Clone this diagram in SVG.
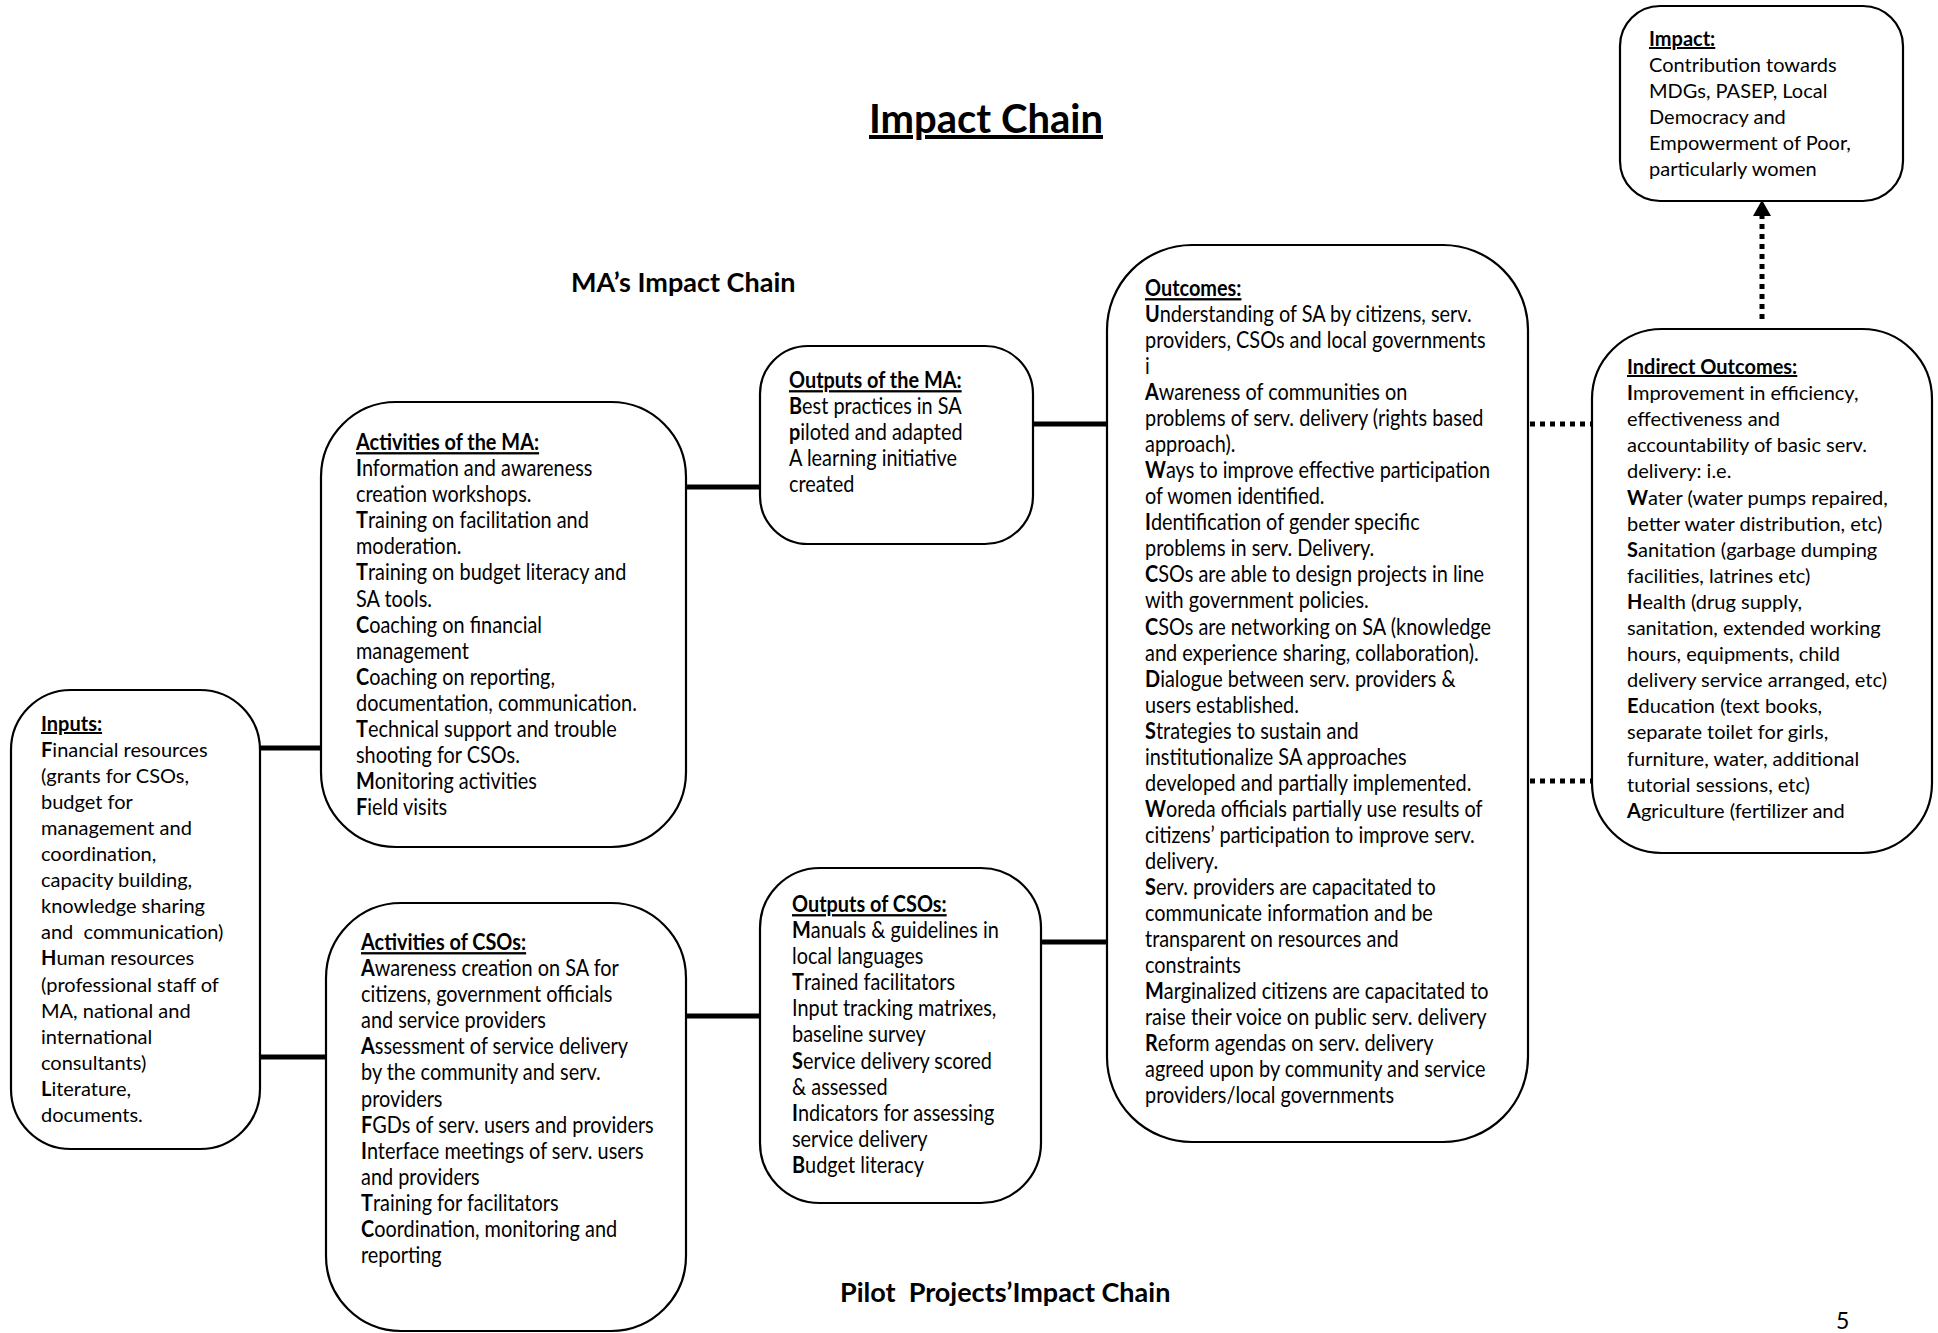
<svg xmlns="http://www.w3.org/2000/svg" width="1938" height="1333" viewBox="0 0 1938 1333">
<style>
.box{fill:#fff;stroke:#000;stroke-width:2.2}
.t{font-family:Lato,"Liberation Sans",sans-serif;font-size:20px;fill:#000}
.c{font-family:Lato,"Liberation Sans",sans-serif;font-size:23px;fill:#000}
.h{font-weight:bold;text-decoration:underline}
.b{font-weight:bold}
.solid{stroke:#000;stroke-width:5;fill:none}
.dot{stroke:#000;stroke-width:5;stroke-dasharray:5 5;fill:none}
.title{font-family:Lato,"Liberation Sans",sans-serif;font-weight:bold;fill:#000}
</style>
<rect width="1938" height="1333" fill="#fff"/>

<g id="titles">
<text class="title" x="986" y="133" font-size="40" text-anchor="middle" text-decoration="underline">Impact Chain</text>
<text class="title" x="571" y="292" font-size="27">MA’s Impact Chain</text>
<text class="title" x="840" y="1302" font-size="27" style="white-space:pre">Pilot  Projects’Impact Chain</text>
<text x="1836" y="1329" font-family="Lato,'Liberation Sans',sans-serif" font-size="23">5</text>
</g>

<g id="connectors">
<line class="solid" x1="260" y1="748" x2="321" y2="748"/>
<line class="solid" x1="260" y1="1057" x2="326" y2="1057"/>
<line class="solid" x1="686" y1="487" x2="760" y2="487"/>
<line class="solid" x1="686" y1="1016" x2="760" y2="1016"/>
<line class="solid" x1="1033" y1="424" x2="1107" y2="424"/>
<line class="solid" x1="1041" y1="942" x2="1107" y2="942"/>
<line class="dot" x1="1530" y1="424" x2="1592" y2="424"/>
<line class="dot" x1="1530" y1="781" x2="1592" y2="781"/>
<line class="dot" x1="1762" y1="319" x2="1762" y2="214"/>
<polygon points="1762,200 1753,216 1771,216" fill="#000"/>
</g>

<g id="impact">
<rect class="box" x="1620" y="6" width="283" height="195" rx="40"/>
<text class="t" x="1649" y="46"><tspan class="h">Impact:</tspan>
<tspan x="1649" dy="26">Contribution towards</tspan>
<tspan x="1649" dy="26">MDGs, PASEP, Local</tspan>
<tspan x="1649" dy="26">Democracy and</tspan>
<tspan x="1649" dy="26">Empowerment of Poor,</tspan>
<tspan x="1649" dy="26">particularly women</tspan></text>
</g>

<g id="indirect-outcomes">
<rect class="box" x="1592" y="329" width="340" height="524" rx="70"/>
<text class="t" x="1627" y="374"><tspan class="h">Indirect Outcomes:</tspan>
<tspan x="1627" dy="26.1"><tspan class="b">I</tspan>mprovement in efficiency,</tspan>
<tspan x="1627" dy="26.1">effectiveness and</tspan>
<tspan x="1627" dy="26.1">accountability of basic serv.</tspan>
<tspan x="1627" dy="26.1">delivery: i.e.</tspan>
<tspan x="1627" dy="26.1"><tspan class="b">W</tspan>ater (water pumps repaired,</tspan>
<tspan x="1627" dy="26.1">better water distribution, etc)</tspan>
<tspan x="1627" dy="26.1"><tspan class="b">S</tspan>anitation (garbage dumping</tspan>
<tspan x="1627" dy="26.1">facilities, latrines etc)</tspan>
<tspan x="1627" dy="26.1"><tspan class="b">H</tspan>ealth (drug supply,</tspan>
<tspan x="1627" dy="26.1">sanitation, extended working</tspan>
<tspan x="1627" dy="26.1">hours, equipments, child</tspan>
<tspan x="1627" dy="26.1">delivery service arranged, etc)</tspan>
<tspan x="1627" dy="26.1"><tspan class="b">E</tspan>ducation (text books,</tspan>
<tspan x="1627" dy="26.1">separate toilet for girls,</tspan>
<tspan x="1627" dy="26.1">furniture, water, additional</tspan>
<tspan x="1627" dy="26.1">tutorial sessions, etc)</tspan>
<tspan x="1627" dy="26.1"><tspan class="b">A</tspan>griculture (fertilizer and</tspan></text>
</g>

<g id="outcomes">
<rect class="box" x="1107" y="245" width="421" height="897" rx="85"/>
<g transform="translate(1145,0) scale(0.865,1)">
<text class="c" x="0" y="296"><tspan class="h">Outcomes:</tspan>
<tspan x="0" dy="26.04"><tspan class="b">U</tspan>nderstanding of SA by citizens, serv.</tspan>
<tspan x="0" dy="26.04">providers, CSOs and local governments</tspan>
<tspan x="0" dy="26.04">i</tspan>
<tspan x="0" dy="26.04"><tspan class="b">A</tspan>wareness of communities on</tspan>
<tspan x="0" dy="26.04">problems of serv. delivery (rights based</tspan>
<tspan x="0" dy="26.04">approach).</tspan>
<tspan x="0" dy="26.04"><tspan class="b">W</tspan>ays to improve effective participation</tspan>
<tspan x="0" dy="26.04">of women identified.</tspan>
<tspan x="0" dy="26.04"><tspan class="b">I</tspan>dentification of gender specific</tspan>
<tspan x="0" dy="26.04">problems in serv. Delivery.</tspan>
<tspan x="0" dy="26.04"><tspan class="b">C</tspan>SOs are able to design projects in line</tspan>
<tspan x="0" dy="26.04">with government policies.</tspan>
<tspan x="0" dy="26.04"><tspan class="b">C</tspan>SOs are networking on SA (knowledge</tspan>
<tspan x="0" dy="26.04">and experience sharing, collaboration).</tspan>
<tspan x="0" dy="26.04"><tspan class="b">D</tspan>ialogue between serv. providers &amp;</tspan>
<tspan x="0" dy="26.04">users established.</tspan>
<tspan x="0" dy="26.04"><tspan class="b">S</tspan>trategies to sustain and</tspan>
<tspan x="0" dy="26.04">institutionalize SA approaches</tspan>
<tspan x="0" dy="26.04">developed and partially implemented.</tspan>
<tspan x="0" dy="26.04"><tspan class="b">W</tspan>oreda officials partially use results of</tspan>
<tspan x="0" dy="26.04">citizens’ participation to improve serv.</tspan>
<tspan x="0" dy="26.04">delivery.</tspan>
<tspan x="0" dy="26.04"><tspan class="b">S</tspan>erv. providers are capacitated to</tspan>
<tspan x="0" dy="26.04">communicate information and be</tspan>
<tspan x="0" dy="26.04">transparent on resources and</tspan>
<tspan x="0" dy="26.04">constraints</tspan>
<tspan x="0" dy="26.04"><tspan class="b">M</tspan>arginalized citizens are capacitated to</tspan>
<tspan x="0" dy="26.04">raise their voice on public serv. delivery</tspan>
<tspan x="0" dy="26.04"><tspan class="b">R</tspan>eform agendas on serv. delivery</tspan>
<tspan x="0" dy="26.04">agreed upon by community and service</tspan>
<tspan x="0" dy="26.04">providers/local governments</tspan></text>
</g>
</g>

<g id="outputs-ma">
<rect class="box" x="760" y="346" width="273" height="198" rx="48"/>
<g transform="translate(789,0) scale(0.865,1)">
<text class="c" x="0" y="388"><tspan class="h">Outputs of the MA:</tspan>
<tspan x="0" dy="26.1"><tspan class="b">B</tspan>est practices in SA</tspan>
<tspan x="0" dy="26.1"><tspan class="b">p</tspan>iloted and adapted</tspan>
<tspan x="0" dy="26.1">A learning initiative</tspan>
<tspan x="0" dy="26.1">created</tspan></text>
</g>
</g>

<g id="outputs-csos">
<rect class="box" x="760" y="868" width="281" height="335" rx="60"/>
<g transform="translate(792,0) scale(0.865,1)">
<text class="c" x="0" y="912"><tspan class="h">Outputs of CSOs:</tspan>
<tspan x="0" dy="26.1"><tspan class="b">M</tspan>anuals &amp; guidelines in</tspan>
<tspan x="0" dy="26.1">local languages</tspan>
<tspan x="0" dy="26.1"><tspan class="b">T</tspan>rained facilitators</tspan>
<tspan x="0" dy="26.1">Input tracking matrixes,</tspan>
<tspan x="0" dy="26.1">baseline survey</tspan>
<tspan x="0" dy="26.1"><tspan class="b">S</tspan>ervice delivery scored</tspan>
<tspan x="0" dy="26.1">&amp; assessed</tspan>
<tspan x="0" dy="26.1"><tspan class="b">I</tspan>ndicators for assessing</tspan>
<tspan x="0" dy="26.1">service delivery</tspan>
<tspan x="0" dy="26.1"><tspan class="b">B</tspan>udget literacy</tspan></text>
</g>
</g>

<g id="activities-ma">
<rect class="box" x="321" y="402" width="365" height="445" rx="75"/>
<g transform="translate(356,0) scale(0.865,1)">
<text class="c" x="0" y="450"><tspan class="h">Activities of the MA:</tspan>
<tspan x="0" dy="26.1"><tspan class="b">I</tspan>nformation and awareness</tspan>
<tspan x="0" dy="26.1">creation workshops.</tspan>
<tspan x="0" dy="26.1"><tspan class="b">T</tspan>raining on facilitation and</tspan>
<tspan x="0" dy="26.1">moderation.</tspan>
<tspan x="0" dy="26.1"><tspan class="b">T</tspan>raining on budget literacy and</tspan>
<tspan x="0" dy="26.1">SA tools.</tspan>
<tspan x="0" dy="26.1"><tspan class="b">C</tspan>oaching on financial</tspan>
<tspan x="0" dy="26.1">management</tspan>
<tspan x="0" dy="26.1"><tspan class="b">C</tspan>oaching on reporting,</tspan>
<tspan x="0" dy="26.1">documentation, communication.</tspan>
<tspan x="0" dy="26.1"><tspan class="b">T</tspan>echnical support and trouble</tspan>
<tspan x="0" dy="26.1">shooting for CSOs.</tspan>
<tspan x="0" dy="26.1"><tspan class="b">M</tspan>onitoring activities</tspan>
<tspan x="0" dy="26.1"><tspan class="b">F</tspan>ield visits</tspan></text>
</g>
</g>

<g id="activities-csos">
<rect class="box" x="326" y="903" width="360" height="428" rx="75"/>
<g transform="translate(361,0) scale(0.865,1)">
<text class="c" x="0" y="950"><tspan class="h">Activities of CSOs:</tspan>
<tspan x="0" dy="26.1"><tspan class="b">A</tspan>wareness creation on SA for</tspan>
<tspan x="0" dy="26.1">citizens, government officials</tspan>
<tspan x="0" dy="26.1">and service providers</tspan>
<tspan x="0" dy="26.1"><tspan class="b">A</tspan>ssessment of service delivery</tspan>
<tspan x="0" dy="26.1">by the community and serv.</tspan>
<tspan x="0" dy="26.1">providers</tspan>
<tspan x="0" dy="26.1"><tspan class="b">F</tspan>GDs of serv. users and providers</tspan>
<tspan x="0" dy="26.1"><tspan class="b">I</tspan>nterface meetings of serv. users</tspan>
<tspan x="0" dy="26.1">and providers</tspan>
<tspan x="0" dy="26.1"><tspan class="b">T</tspan>raining for facilitators</tspan>
<tspan x="0" dy="26.1"><tspan class="b">C</tspan>oordination, monitoring and</tspan>
<tspan x="0" dy="26.1">reporting</tspan></text>
</g>
</g>

<g id="inputs">
<rect class="box" x="11" y="690" width="249" height="459" rx="60"/>
<text class="t" x="41" y="731" style="white-space:pre"><tspan class="h">Inputs:</tspan>
<tspan x="41" dy="26.05"><tspan class="b">F</tspan>inancial resources</tspan>
<tspan x="41" dy="26.05">(grants for CSOs,</tspan>
<tspan x="41" dy="26.05">budget for</tspan>
<tspan x="41" dy="26.05">management and</tspan>
<tspan x="41" dy="26.05">coordination,</tspan>
<tspan x="41" dy="26.05">capacity building,</tspan>
<tspan x="41" dy="26.05">knowledge sharing</tspan>
<tspan x="41" dy="26.05">and  communication)</tspan>
<tspan x="41" dy="26.05"><tspan class="b">H</tspan>uman resources</tspan>
<tspan x="41" dy="26.05">(professional staff of</tspan>
<tspan x="41" dy="26.05">MA, national and</tspan>
<tspan x="41" dy="26.05">international</tspan>
<tspan x="41" dy="26.05">consultants)</tspan>
<tspan x="41" dy="26.05"><tspan class="b">L</tspan>iterature,</tspan>
<tspan x="41" dy="26.05">documents.</tspan></text>
</g>
</svg>
